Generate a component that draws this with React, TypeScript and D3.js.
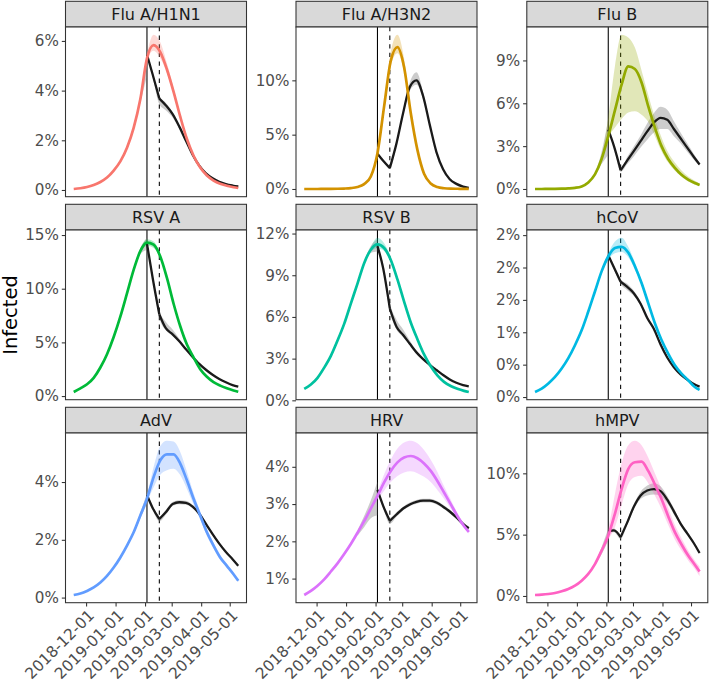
import { useEffect, useRef } from 'react';
import * as d3 from 'd3';

// Shared date grids
const fitDates = [
  '2018-11-18', '2018-11-25', '2018-12-02', '2018-12-09', '2018-12-16', '2018-12-23', '2018-12-30',
  '2019-01-06', '2019-01-13', '2019-01-20', '2019-01-27', '2019-02-03', '2019-02-10', '2019-02-17',
  '2019-02-24', '2019-03-03', '2019-03-10', '2019-03-17', '2019-03-24', '2019-03-31', '2019-04-07',
  '2019-04-14', '2019-04-21', '2019-04-28', '2019-05-05', '2019-05-10',
];
const bandDates = [
  '2019-01-27', '2019-02-03', '2019-02-10', '2019-02-17', '2019-02-24', '2019-03-03', '2019-03-10',
  '2019-03-17', '2019-03-24', '2019-03-31', '2019-04-07', '2019-04-14', '2019-04-21', '2019-04-28',
  '2019-05-05', '2019-05-10',
];
const obsDates = [
  '2019-02-03', '2019-02-09', '2019-02-16', '2019-02-23', '2019-03-02', '2019-03-09', '2019-03-16',
  '2019-03-23', '2019-03-30', '2019-04-06', '2019-04-13', '2019-04-20', '2019-04-27', '2019-05-04',
  '2019-05-10',
];
const preDates = ['2019-01-13', '2019-01-20', '2019-01-27', '2019-02-03'];
const startDate = '2019-02-03';
const endDate = '2019-02-16';
const xTicks = ['2018-12-01', '2019-01-01', '2019-02-01', '2019-03-01', '2019-04-01', '2019-05-01'];

// Flu A/H1N1
const h1n1Fit = [0.04, 0.07, 0.12, 0.2, 0.32, 0.5, 0.78, 1.15, 1.7, 2.5, 3.65, 5.3, 5.83, 5.55, 4.85, 3.95, 2.95, 2.05, 1.38, 0.9, 0.58, 0.38, 0.25, 0.17, 0.11, 0.08];
const h1n1FitLo = [3.65, 5.2, 5.6, 5.3, 4.7, 3.85, 2.9, 2.02, 1.36, 0.89, 0.58, 0.38, 0.25, 0.17, 0.11, 0.08];
const h1n1FitHi = [3.65, 5.45, 6.25, 5.95, 5.1, 4.1, 3.02, 2.08, 1.4, 0.91, 0.58, 0.38, 0.25, 0.17, 0.11, 0.08];
const h1n1Obs = [5.45, 4.65, 3.68, 3.4, 3.05, 2.55, 1.98, 1.42, 0.98, 0.67, 0.47, 0.33, 0.24, 0.18, 0.14];
const h1n1ObsLo = [5.4, 4.55, 3.45, 3.2, 2.92, 2.47, 1.93, 1.39, 0.96, 0.66, 0.46, 0.32, 0.23, 0.17, 0.13];
const h1n1ObsHi = [5.5, 4.75, 3.78, 3.5, 3.12, 2.6, 2.02, 1.45, 1.0, 0.68, 0.48, 0.34, 0.25, 0.19, 0.15];
const h1n1PreLo = [1.7, 2.45, 3.5, 4.6];
const h1n1PreHi = [1.7, 2.55, 3.8, 5.35];

// Flu A/H3N2
const h3n2Fit = [0, 0, 0, 0.01, 0.01, 0.02, 0.04, 0.08, 0.18, 0.45, 1.15, 3.3, 7.6, 11.8, 13.05, 11.2, 7.0, 3.6, 1.4, 0.5, 0.18, 0.07, 0.03, 0.02, 0.01, 0.01];
const h3n2FitLo = [1.15, 3.25, 7.4, 11.3, 12.5, 10.8, 6.8, 3.5, 1.38, 0.5, 0.18, 0.07, 0.03, 0.02, 0.01, 0.01];
const h3n2FitHi = [1.15, 3.35, 7.9, 12.6, 14.2, 12.0, 7.3, 3.7, 1.42, 0.5, 0.18, 0.07, 0.03, 0.02, 0.01, 0.01];
const h3n2Obs = [3.25, 2.6, 1.93, 4.2, 7.0, 9.4, 10.0, 8.55, 5.9, 3.4, 1.82, 0.9, 0.47, 0.22, 0.1];
const h3n2ObsLo = [3.2, 2.55, 1.85, 4.05, 6.75, 9.05, 9.6, 8.25, 5.75, 3.32, 1.78, 0.88, 0.46, 0.21, 0.1];
const h3n2ObsHi = [3.3, 2.65, 2.0, 4.35, 7.25, 9.8, 10.75, 8.9, 6.05, 3.48, 1.86, 0.92, 0.48, 0.23, 0.11];
const h3n2PreLo = [0.18, 0.45, 1.15, 3.3];
const h3n2PreHi = [0.18, 0.45, 1.15, 3.3];

// Flu B
const fluBFit = [0, 0, 0.01, 0.01, 0.02, 0.04, 0.08, 0.18, 0.46, 1.02, 2.1, 3.7, 5.5, 7.3, 8.58, 8.4, 7.46, 5.8, 4.3, 3.0, 2.1, 1.48, 1.0, 0.66, 0.42, 0.28];
const fluBFitLo = [2.1, 3.6, 4.3, 4.9, 5.35, 5.45, 5.2, 4.7, 3.7, 2.65, 1.85, 1.28, 0.85, 0.52, 0.3, 0.19];
const fluBFitHi = [2.1, 5.0, 8.6, 10.8, 10.6, 9.9, 8.3, 6.6, 5.0, 3.6, 2.55, 1.85, 1.3, 0.88, 0.58, 0.4];
const fluBObs = [4.15, 3.0, 1.31, 2.0, 2.67, 3.35, 4.03, 4.65, 4.98, 4.85, 4.2, 3.55, 2.9, 2.24, 1.72];
const fluBObsLo = [4.05, 2.9, 1.2, 1.75, 2.3, 2.9, 3.45, 3.95, 4.2, 4.2, 3.7, 3.2, 2.6, 2.05, 1.62];
const fluBObsHi = [4.25, 3.1, 1.42, 2.25, 3.0, 3.75, 4.6, 5.3, 5.75, 5.55, 4.75, 3.95, 3.2, 2.45, 1.82];
const fluBPreLo = [0.46, 0.95, 1.75, 2.4];
const fluBPreHi = [0.46, 1.1, 2.6, 4.9];

// RSV A
const rsvAFit = [0.38, 0.72, 1.1, 1.7, 2.66, 3.9, 5.5, 7.4, 9.56, 11.75, 13.5, 14.3, 14.1, 13.0, 11.0, 8.6, 6.5, 4.8, 3.6, 2.5, 1.8, 1.3, 0.97, 0.72, 0.52, 0.4];
const rsvAFitLo = [13.3, 14.0, 13.8, 12.8, 10.9, 8.55, 6.47, 4.78, 3.59, 2.5, 1.8, 1.3, 0.97, 0.72, 0.52, 0.4];
const rsvAFitHi = [13.7, 14.6, 14.4, 13.2, 11.1, 8.65, 6.53, 4.82, 3.61, 2.5, 1.8, 1.3, 0.97, 0.72, 0.52, 0.4];
const rsvAObs = [14.2, 11.0, 7.6, 6.3, 5.75, 5.1, 4.35, 3.65, 3.0, 2.45, 1.98, 1.6, 1.28, 1.02, 0.88];
const rsvAObsLo = [14.1, 10.8, 7.3, 6.1, 5.6, 5.0, 4.28, 3.6, 2.96, 2.42, 1.96, 1.58, 1.27, 1.01, 0.87];
const rsvAObsHi = [14.3, 11.3, 8.0, 6.9, 6.2, 5.35, 4.48, 3.72, 3.04, 2.48, 2.0, 1.62, 1.29, 1.03, 0.89];
const rsvAPreLo = [9.56, 11.6, 13.2, 13.6];
const rsvAPreHi = [9.56, 11.9, 13.8, 14.75];

// RSV B
const rsvBFit = [0.82, 1.14, 1.62, 2.35, 3.2, 4.3, 5.5, 6.96, 8.4, 9.87, 10.84, 11.22, 10.96, 10.1, 8.7, 7.1, 5.6, 4.4, 3.3, 2.45, 1.8, 1.33, 1.03, 0.83, 0.68, 0.6];
const rsvBFitLo = [10.7, 10.95, 10.75, 9.95, 8.6, 7.05, 5.58, 4.4, 3.3, 2.45, 1.8, 1.33, 1.03, 0.83, 0.68, 0.6];
const rsvBFitHi = [11.0, 11.7, 11.3, 10.3, 8.85, 7.15, 5.62, 4.4, 3.3, 2.45, 1.8, 1.33, 1.03, 0.83, 0.68, 0.6];
const rsvBObs = [11.1, 9.5, 6.6, 5.3, 4.7, 4.07, 3.45, 2.96, 2.55, 2.18, 1.82, 1.5, 1.26, 1.09, 1.0];
const rsvBObsLo = [11.0, 9.3, 6.4, 5.1, 4.55, 3.98, 3.4, 2.92, 2.52, 2.16, 1.8, 1.49, 1.25, 1.08, 0.99];
const rsvBObsHi = [11.2, 9.8, 7.0, 5.8, 5.1, 4.3, 3.55, 3.01, 2.58, 2.2, 1.84, 1.51, 1.27, 1.1, 1.01];
const rsvBPreLo = [8.4, 9.75, 10.6, 10.7];
const rsvBPreHi = [8.4, 10.0, 11.1, 11.6];

// hCoV
const hcovFit = [0.078, 0.13, 0.21, 0.31, 0.44, 0.6, 0.8, 1.03, 1.32, 1.63, 1.94, 2.17, 2.3, 2.32, 2.23, 2.02, 1.76, 1.45, 1.14, 0.88, 0.67, 0.49, 0.36, 0.26, 0.155, 0.11];
const hcovFitLo = [1.92, 2.12, 2.22, 2.24, 2.16, 1.97, 1.73, 1.43, 1.13, 0.88, 0.67, 0.49, 0.36, 0.26, 0.155, 0.11];
const hcovFitHi = [1.96, 2.22, 2.4, 2.46, 2.32, 2.08, 1.8, 1.47, 1.15, 0.88, 0.67, 0.49, 0.36, 0.26, 0.155, 0.11];
const hcovObs = [2.19, 2.0, 1.78, 1.7, 1.6, 1.44, 1.22, 1.05, 0.81, 0.61, 0.46, 0.35, 0.27, 0.2, 0.16];
const hcovObsLo = [2.17, 1.97, 1.74, 1.65, 1.56, 1.41, 1.2, 1.03, 0.8, 0.6, 0.45, 0.34, 0.26, 0.19, 0.15];
const hcovObsHi = [2.21, 2.03, 1.82, 1.75, 1.64, 1.47, 1.24, 1.07, 0.82, 0.62, 0.47, 0.36, 0.28, 0.21, 0.17];
const hcovPreLo = [1.32, 1.62, 1.92, 2.13];
const hcovPreHi = [1.32, 1.64, 1.97, 2.22];

// AdV
const advFit = [0.09, 0.14, 0.23, 0.35, 0.52, 0.75, 1.04, 1.39, 1.8, 2.26, 2.84, 3.42, 4.17, 4.75, 4.96, 4.96, 4.64, 4.06, 3.42, 2.84, 2.26, 1.8, 1.39, 1.1, 0.81, 0.58];
const advFitLo = [2.84, 3.32, 3.82, 4.25, 4.41, 4.46, 4.24, 3.76, 3.22, 2.7, 2.14, 1.7, 1.31, 1.04, 0.76, 0.53];
const advFitHi = [2.84, 3.52, 4.52, 5.25, 5.43, 5.4, 5.04, 4.36, 3.62, 2.98, 2.38, 1.9, 1.47, 1.16, 0.86, 0.63];
const advObs = [3.55, 3.1, 2.72, 2.96, 3.24, 3.3, 3.28, 3.15, 2.9, 2.55, 2.2, 1.87, 1.58, 1.33, 1.1];
const advObsLo = [3.5, 3.03, 2.64, 2.88, 3.17, 3.23, 3.21, 3.09, 2.85, 2.5, 2.16, 1.83, 1.55, 1.3, 1.07];
const advObsHi = [3.6, 3.17, 2.8, 3.04, 3.31, 3.37, 3.35, 3.21, 2.95, 2.6, 2.24, 1.91, 1.61, 1.36, 1.13];
const advPreLo = [1.8, 2.2, 2.74, 3.25];
const advPreHi = [1.8, 2.32, 2.94, 3.6];

// HRV
const hrvFit = [0.56, 0.67, 0.81, 0.98, 1.19, 1.41, 1.66, 1.93, 2.23, 2.54, 2.88, 3.22, 3.58, 3.89, 4.12, 4.25, 4.29, 4.23, 4.09, 3.89, 3.62, 3.31, 3.0, 2.68, 2.41, 2.25];
const hrvFitLo = [2.88, 3.12, 3.36, 3.59, 3.75, 3.85, 3.88, 3.83, 3.73, 3.59, 3.38, 3.14, 2.88, 2.6, 2.36, 2.21];
const hrvFitHi = [2.88, 3.32, 3.8, 4.19, 4.49, 4.65, 4.7, 4.63, 4.45, 4.19, 3.86, 3.48, 3.12, 2.76, 2.46, 2.29];
const hrvObs = [3.38, 2.95, 2.55, 2.72, 2.88, 2.99, 3.06, 3.09, 3.09, 3.04, 2.93, 2.8, 2.64, 2.47, 2.35];
const hrvObsLo = [3.33, 2.89, 2.47, 2.66, 2.83, 2.94, 3.01, 3.04, 3.04, 2.99, 2.88, 2.75, 2.6, 2.43, 2.31];
const hrvObsHi = [3.43, 3.01, 2.63, 2.78, 2.93, 3.04, 3.11, 3.14, 3.14, 3.09, 2.98, 2.85, 2.68, 2.51, 2.39];
const hrvPreLo = [2.15, 2.38, 2.62, 2.7];
const hrvPreHi = [2.3, 2.68, 3.1, 3.6];

// hMPV
const hmpvFit = [0.08, 0.11, 0.16, 0.24, 0.38, 0.57, 0.84, 1.25, 1.8, 2.6, 3.7, 4.92, 6.7, 8.72, 10.35, 10.9, 10.95, 10.2, 9.1, 7.9, 6.5, 5.2, 4.2, 3.3, 2.55, 2.0];
const hmpvFitLo = [3.7, 4.6, 5.6, 7.4, 9.1, 9.7, 9.8, 9.2, 8.2, 7.1, 5.8, 4.6, 3.7, 2.9, 2.2, 1.6];
const hmpvFitHi = [3.7, 5.5, 8.3, 10.8, 12.3, 12.66, 12.3, 11.3, 10.0, 8.7, 7.2, 5.8, 4.7, 3.7, 2.9, 2.4];
const hmpvObs = [5.3, 5.35, 4.8, 6.0, 7.3, 8.2, 8.6, 8.72, 8.55, 7.85, 6.9, 5.9, 5.1, 4.3, 3.5];
const hmpvObsLo = [5.2, 5.2, 4.65, 5.8, 7.1, 7.9, 8.2, 8.27, 8.15, 7.55, 6.65, 5.75, 4.95, 4.2, 3.42];
const hmpvObsHi = [5.4, 5.5, 4.95, 6.2, 7.5, 8.5, 9.0, 9.2, 8.95, 8.15, 7.15, 6.05, 5.25, 4.4, 3.58];
const hmpvPreLo = [1.8, 2.5, 3.4, 4.5];
const hmpvPreHi = [1.8, 2.7, 4.0, 5.5];

interface Panel {
  name: string;
  color: string;
  fit: number[];
  fitLo: number[];
  fitHi: number[];
  obs: number[];
  obsLo: number[];
  obsHi: number[];
  preLo: number[];
  preHi: number[];
  ticks: number[];
  labels?: string[];
}

const panels: Panel[] = [
  { name: 'Flu A/H1N1', color: '#F8766D', fit: h1n1Fit, fitLo: h1n1FitLo, fitHi: h1n1FitHi, obs: h1n1Obs, obsLo: h1n1ObsLo, obsHi: h1n1ObsHi, preLo: h1n1PreLo, preHi: h1n1PreHi, ticks: [0, 2, 4, 6] },
  { name: 'Flu A/H3N2', color: '#D39200', fit: h3n2Fit, fitLo: h3n2FitLo, fitHi: h3n2FitHi, obs: h3n2Obs, obsLo: h3n2ObsLo, obsHi: h3n2ObsHi, preLo: h3n2PreLo, preHi: h3n2PreHi, ticks: [0, 5, 10] },
  { name: 'Flu B', color: '#93AA00', fit: fluBFit, fitLo: fluBFitLo, fitHi: fluBFitHi, obs: fluBObs, obsLo: fluBObsLo, obsHi: fluBObsHi, preLo: fluBPreLo, preHi: fluBPreHi, ticks: [0, 3, 6, 9] },
  { name: 'RSV A', color: '#00BA38', fit: rsvAFit, fitLo: rsvAFitLo, fitHi: rsvAFitHi, obs: rsvAObs, obsLo: rsvAObsLo, obsHi: rsvAObsHi, preLo: rsvAPreLo, preHi: rsvAPreHi, ticks: [0, 5, 10, 15] },
  { name: 'RSV B', color: '#00C19F', fit: rsvBFit, fitLo: rsvBFitLo, fitHi: rsvBFitHi, obs: rsvBObs, obsLo: rsvBObsLo, obsHi: rsvBObsHi, preLo: rsvBPreLo, preHi: rsvBPreHi, ticks: [0, 3, 6, 9, 12] },
  { name: 'hCoV', color: '#00B9E3', fit: hcovFit, fitLo: hcovFitLo, fitHi: hcovFitHi, obs: hcovObs, obsLo: hcovObsLo, obsHi: hcovObsHi, preLo: hcovPreLo, preHi: hcovPreHi, ticks: [0, 0.5, 1, 1.5, 2, 2.5], labels: ['0%', '0%', '1%', '2%', '2%', '2%'] },
  { name: 'AdV', color: '#619CFF', fit: advFit, fitLo: advFitLo, fitHi: advFitHi, obs: advObs, obsLo: advObsLo, obsHi: advObsHi, preLo: advPreLo, preHi: advPreHi, ticks: [0, 2, 4] },
  { name: 'HRV', color: '#DB72FB', fit: hrvFit, fitLo: hrvFitLo, fitHi: hrvFitHi, obs: hrvObs, obsLo: hrvObsLo, obsHi: hrvObsHi, preLo: hrvPreLo, preHi: hrvPreHi, ticks: [1, 2, 3, 4] },
  { name: 'hMPV', color: '#FF61C3', fit: hmpvFit, fitLo: hmpvFitLo, fitHi: hmpvFitHi, obs: hmpvObs, obsLo: hmpvObsLo, obsHi: hmpvObsHi, preLo: hmpvPreLo, preHi: hmpvPreHi, ticks: [0, 5, 10] },
];

const parseDate = d3.utcParse('%Y-%m-%d');
const toDate = (s: string) => parseDate(s) as Date;

type Pt = { date: Date; v: number };
type Band = { date: Date; lo: number; hi: number };

export default function App() {
  const svgRef = useRef<SVGSVGElement>(null);

  useEffect(() => {
    if (!svgRef.current) return;
    const svg = d3.select(svgRef.current);
    svg.selectAll('*').remove();

    const font = 'DejaVu Sans, sans-serif';
    const colLeft = [65.5, 296, 526.8];
    const rowTop = [1.3, 204.3, 407.3];
    const panelW = 181;
    const stripH = 25.7;
    const plotH = 169.7;

    // x scale shared by all panels, 5% expansion like ggplot
    const xExtent = d3.extent(fitDates.map(toDate)) as [Date, Date];
    const span = xExtent[1].getTime() - xExtent[0].getTime();
    const x = d3.scaleUtc()
      .domain([new Date(xExtent[0].getTime() - span * 0.05), new Date(xExtent[1].getTime() + span * 0.05)])
      .range([0, panelW]);

    const line = (y: d3.ScaleLinear<number, number>) => d3.line<Pt>()
      .x(d => x(d.date))
      .y(d => y(d.v))
      .curve(d3.curveMonotoneX);
    const area = (y: d3.ScaleLinear<number, number>) => d3.area<Band>()
      .x(d => x(d.date))
      .y0(d => y(d.lo))
      .y1(d => y(d.hi))
      .curve(d3.curveMonotoneX);

    panels.forEach((p, i) => {
      const col = i % 3;
      const row = Math.floor(i / 3);
      const g = svg.append('g').attr('transform', `translate(${colLeft[col]},${rowTop[row]})`);

      // Strip
      g.append('rect')
        .attr('width', panelW)
        .attr('height', stripH)
        .attr('fill', '#D9D9D9')
        .attr('stroke', '#333333')
        .attr('stroke-width', 1.07);
      g.append('text')
        .attr('x', panelW / 2)
        .attr('y', stripH / 2)
        .attr('dy', '0.36em')
        .attr('text-anchor', 'middle')
        .attr('font-family', font)
        .attr('font-size', 16)
        .attr('fill', '#1A1A1A')
        .text(p.name);

      const pg = g.append('g').attr('transform', `translate(0,${stripH})`);
      pg.append('rect').attr('width', panelW).attr('height', plotH).attr('fill', '#ffffff');

      const allVals = [...p.fit, ...p.fitLo, ...p.fitHi, ...p.obsLo, ...p.obsHi, ...p.preLo, ...p.preHi];
      const [vMin, vMax] = d3.extent(allVals) as [number, number];
      const pad = (vMax - vMin) * 0.05;
      const y = d3.scaleLinear().domain([vMin - pad, vMax + pad]).range([plotH, 0]);

      const clipId = `clip-${i}`;
      pg.append('clipPath').attr('id', clipId)
        .append('rect').attr('width', panelW).attr('height', plotH);
      const body = pg.append('g').attr('clip-path', `url(#${clipId})`);

      // Intervention lines
      body.append('line')
        .attr('x1', x(toDate(startDate))).attr('x2', x(toDate(startDate)))
        .attr('y1', 0).attr('y2', plotH)
        .attr('stroke', '#000000').attr('stroke-width', 1.07);
      body.append('line')
        .attr('x1', x(toDate(endDate))).attr('x2', x(toDate(endDate)))
        .attr('y1', 0).attr('y2', plotH)
        .attr('stroke', '#000000').attr('stroke-width', 1.07)
        .attr('stroke-dasharray', '4.3,4.3');

      const fitPts: Pt[] = fitDates.map((d, j) => ({ date: toDate(d), v: p.fit[j] }));
      const fitBand: Band[] = bandDates.map((d, j) => ({ date: toDate(d), lo: p.fitLo[j], hi: p.fitHi[j] }));
      const obsPts: Pt[] = obsDates.map((d, j) => ({ date: toDate(d), v: p.obs[j] }));
      const obsBand: Band[] = obsDates.map((d, j) => ({ date: toDate(d), lo: p.obsLo[j], hi: p.obsHi[j] }));
      const preBand: Band[] = preDates.map((d, j) => ({ date: toDate(d), lo: p.preLo[j], hi: p.preHi[j] }));

      // Grey ribbons (counterfactual)
      body.append('path').datum(preBand)
        .attr('fill', '#808080').attr('fill-opacity', 0.4)
        .attr('d', area(y));
      body.append('path').datum(obsBand)
        .attr('fill', '#808080').attr('fill-opacity', 0.4)
        .attr('d', area(y));

      // Coloured ribbon
      body.append('path').datum(fitBand)
        .attr('fill', p.color).attr('fill-opacity', 0.28)
        .attr('d', area(y));

      // Black line, split at the end of the intervention window
      const k = obsDates.indexOf(endDate);
      [obsPts.slice(0, k + 1), obsPts.slice(k)].forEach(seg => {
        body.append('path').datum(seg)
          .attr('fill', 'none')
          .attr('stroke', '#1A1A1A')
          .attr('stroke-width', 2.3)
          .attr('stroke-linejoin', 'round')
          .attr('d', line(y));
      });

      // Coloured line
      body.append('path').datum(fitPts)
        .attr('fill', 'none')
        .attr('stroke', p.color)
        .attr('stroke-width', 2.7)
        .attr('d', line(y));

      // Panel border
      pg.append('rect')
        .attr('width', panelW).attr('height', plotH)
        .attr('fill', 'none')
        .attr('stroke', '#333333')
        .attr('stroke-width', 1.07);

      // Y axis
      const yAxis = pg.append('g')
        .call(d3.axisLeft(y)
          .tickValues(p.ticks)
          .tickSize(3.7)
          .tickPadding(2.9)
          .tickFormat((d, j) => (p.labels ? p.labels[j] : `${d}%`)));
      yAxis.select('.domain').remove();
      yAxis.selectAll('line').attr('stroke', '#333333').attr('stroke-width', 1.07);
      yAxis.selectAll('text')
        .attr('font-family', font)
        .attr('font-size', 15.2)
        .attr('fill', '#4D4D4D');

      // X axis on the bottom row only
      if (row === 2) {
        const xAxis = pg.append('g')
          .attr('transform', `translate(0,${plotH})`)
          .call(d3.axisBottom(x)
            .tickValues(xTicks.map(toDate))
            .tickSize(3.7)
            .tickFormat(d => d3.utcFormat('%Y-%m-%d')(d as Date)));
        xAxis.select('.domain').remove();
        xAxis.selectAll('line').attr('stroke', '#333333').attr('stroke-width', 1.07);
        xAxis.selectAll('text')
          .attr('x', 0)
          .attr('y', 0)
          .attr('dy', '0.74em')
          .attr('transform', 'translate(0.5,5.5) rotate(-45)')
          .attr('text-anchor', 'end')
          .attr('font-family', font)
          .attr('font-size', 15.5)
          .attr('fill', '#4D4D4D');
      }
    });

    // Y axis title
    svg.append('text')
      .attr('transform', 'translate(16.7,315) rotate(-90)')
      .attr('text-anchor', 'middle')
      .attr('font-family', font)
      .attr('font-size', 19.5)
      .attr('fill', '#000000')
      .text('Infected');
  }, []);

  return (
    <div style={{ position: 'absolute', left: 0, top: 0 }}>
      <svg ref={svgRef} width={709} height={683} style={{ display: 'block', background: '#ffffff' }} />
    </div>
  );
}
